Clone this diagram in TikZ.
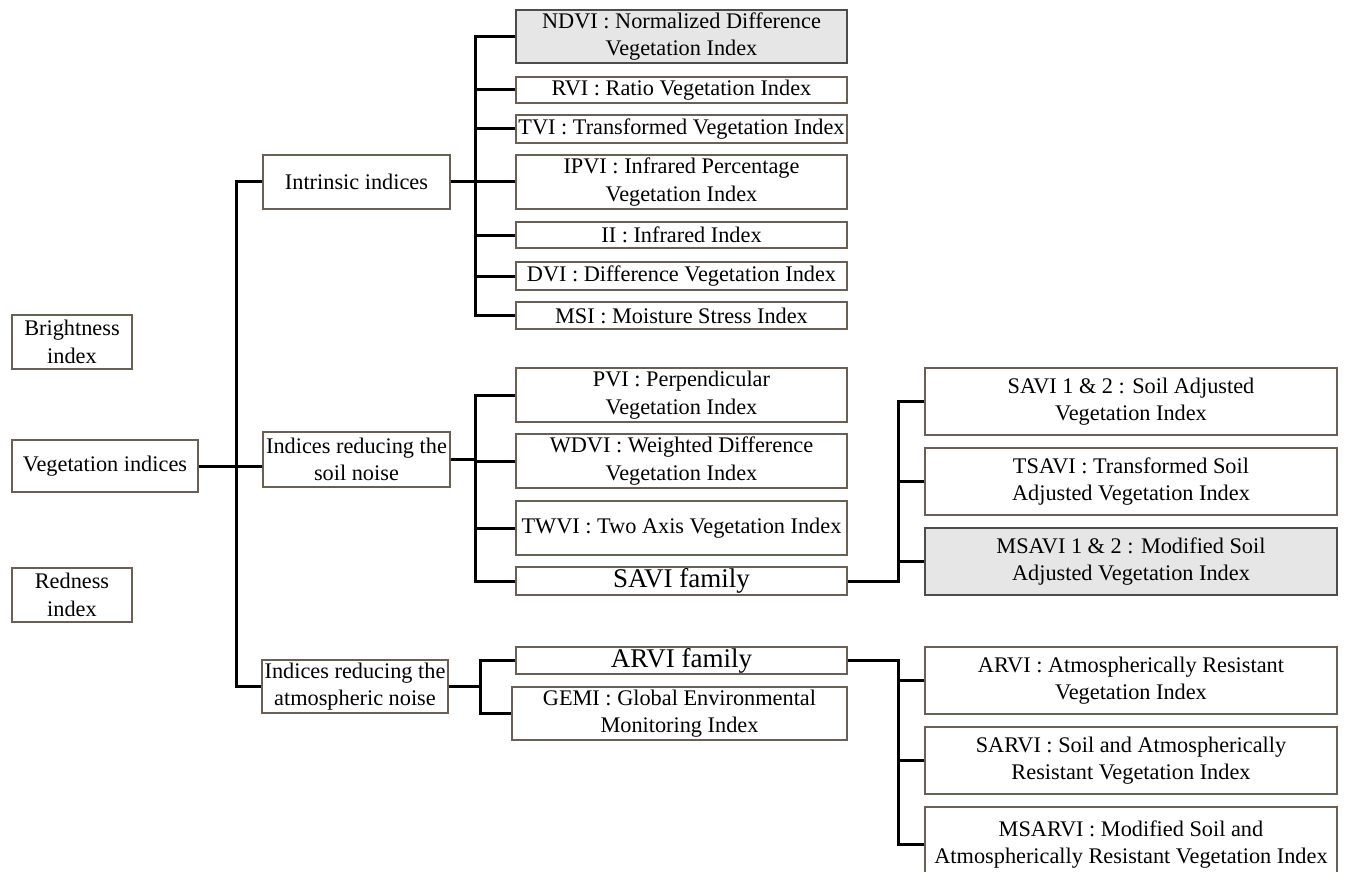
\documentclass[tikz,border=0pt]{standalone}
\usepackage{fontspec}
\setmainfont{Liberation Serif}
\definecolor{bcol}{RGB}{105,95,85}
\definecolor{gfill}{RGB}{230,230,230}
\newcommand\bbox[7]{\node[#1, minimum width={#4-#2}, minimum height={#5-#3}] (#6) at ({(#2+#4)/2},{(#3+#5)/2}) {#7};}
\begin{document}
\begin{tikzpicture}[x=1pt,y=-1pt,
  bx/.style={draw=bcol, line width=1.3pt, fill=white, inner sep=0pt, align=center, font=\fontsize{22.3}{27.5}\selectfont},
  gbx/.style={bx, fill=gfill, draw=gray!60!black},
  big/.style={bx, font=\fontsize{27}{28}\selectfont},
  conn/.style={line width=3pt, black}]
\useasboundingbox (0,0) rectangle (1345,872);
% left column
\bbox{bx}{12}{315}{132}{369}{bright}{Brightness\\index}
\bbox{bx}{12}{440}{198}{492}{veg}{Vegetation indices}
\bbox{bx}{12}{568}{132}{622}{red}{Redness\\index}
% second column
\bbox{bx}{263}{155}{450}{209}{intr}{Intrinsic indices}
\bbox{bx}{263}{432}{450}{487}{soil}{Indices reducing the\\soil noise}
\bbox{bx}{262}{660}{448}{713}{atm}{Indices reducing the\\atmospheric noise}
% intrinsic children
\bbox{gbx}{516}{10}{847}{63}{ndvi}{NDVI : Normalized Difference\\Vegetation Index}
\bbox{bx}{516}{77}{847}{103}{rvi}{RVI : Ratio Vegetation Index}
\bbox{bx}{516}{115}{847}{143}{tvi}{TVI : Transformed Vegetation Index}
\bbox{bx}{516}{155}{847}{209}{ipvi}{IPVI : Infrared Percentage\\Vegetation Index}
\bbox{bx}{516}{222}{847}{248}{ii}{II : Infrared Index}
\bbox{bx}{516}{262}{847}{290}{dvi}{DVI : Difference Vegetation Index}
\bbox{bx}{516}{302}{847}{329}{msi}{MSI : Moisture Stress Index}
% soil children
\bbox{bx}{516}{368}{847}{422}{pvi}{PVI : Perpendicular\\Vegetation Index}
\bbox{bx}{516}{434}{847}{488}{wdvi}{WDVI : Weighted Difference\\Vegetation Index}
\bbox{bx}{516}{501}{847}{555}{twvi}{TWVI : Two Axis Vegetation Index}
\bbox{big}{516}{567}{847}{595}{savif}{SAVI family}
% savi children
\bbox{bx}{925}{368}{1337}{435}{savi}{SAVI 1 \& 2 : Soil Adjusted\\Vegetation Index}
\bbox{bx}{925}{448}{1337}{515}{tsavi}{TSAVI : Transformed Soil\\Adjusted Vegetation Index}
\bbox{gbx}{925}{528}{1337}{595}{msavi}{MSAVI 1 \& 2 : Modified Soil\\Adjusted Vegetation Index}
% atmospheric children
\bbox{big}{516}{647}{847}{674}{arvif}{ARVI family}
\bbox{bx}{512}{687}{847}{740}{gemi}{GEMI : Global Environmental\\Monitoring Index}
% arvi children
\bbox{bx}{925}{647}{1337}{714}{arvi}{ARVI : Atmospherically Resistant\\Vegetation Index}
\bbox{bx}{925}{727}{1337}{794}{sarvi}{SARVI : Soil and Atmospherically\\Resistant Vegetation Index}
\bbox{bx}{925}{807}{1337}{882}{msarvi}{MSARVI : Modified Soil and\\Atmospherically Resistant Vegetation Index}
% trunk coordinates
\coordinate (t0) at (236,0);
\coordinate (t1) at (475,0);
\coordinate (t2) at (475,0);
\coordinate (t3) at (480,0);
\coordinate (t4) at (898,0);
\coordinate (t5) at (898,0);
% main trunk
\draw[conn] (veg.east) -- (veg.east -| soil.west);
\draw[conn] (intr.west) -- (intr.west -| t0) -- (atm.west -| t0) -- (atm.west);
% intrinsic
\draw[conn] (intr.east) -- (intr.east -| t1);
\draw[conn] (ndvi.west) -- (ndvi.west -| t1) -- (msi.west -| t1) -- (msi.west);
\foreach \n in {rvi,tvi,ipvi,ii,dvi} \draw[conn] (\n.west) -- (\n.west -| t1);
% soil
\draw[conn] (soil.east) -- (soil.east -| t2);
\draw[conn] (pvi.west) -- (pvi.west -| t2) -- (savif.west -| t2) -- (savif.west);
\foreach \n in {wdvi,twvi} \draw[conn] (\n.west) -- (\n.west -| t2);
% savi family
\draw[conn] (savif.east) -- (savif.east -| t4) -- (savi.west -| t4) -- (savi.west);
\draw[conn] (tsavi.west) -- (tsavi.west -| t4);
\draw[conn] (msavi.west) -- (msavi.west -| t4);
% atmospheric
\draw[conn] (atm.east) -- (atm.east -| t3);
\draw[conn] (arvif.west) -- (arvif.west -| t3) -- (gemi.west -| t3) -- (gemi.west);
% arvi family
\draw[conn] (arvif.east) -- (arvif.east -| t5) -- (msarvi.west -| t5) -- (msarvi.west);
\draw[conn] (arvi.west) -- (arvi.west -| t5);
\draw[conn] (sarvi.west) -- (sarvi.west -| t5);
\end{tikzpicture}
\end{document}
